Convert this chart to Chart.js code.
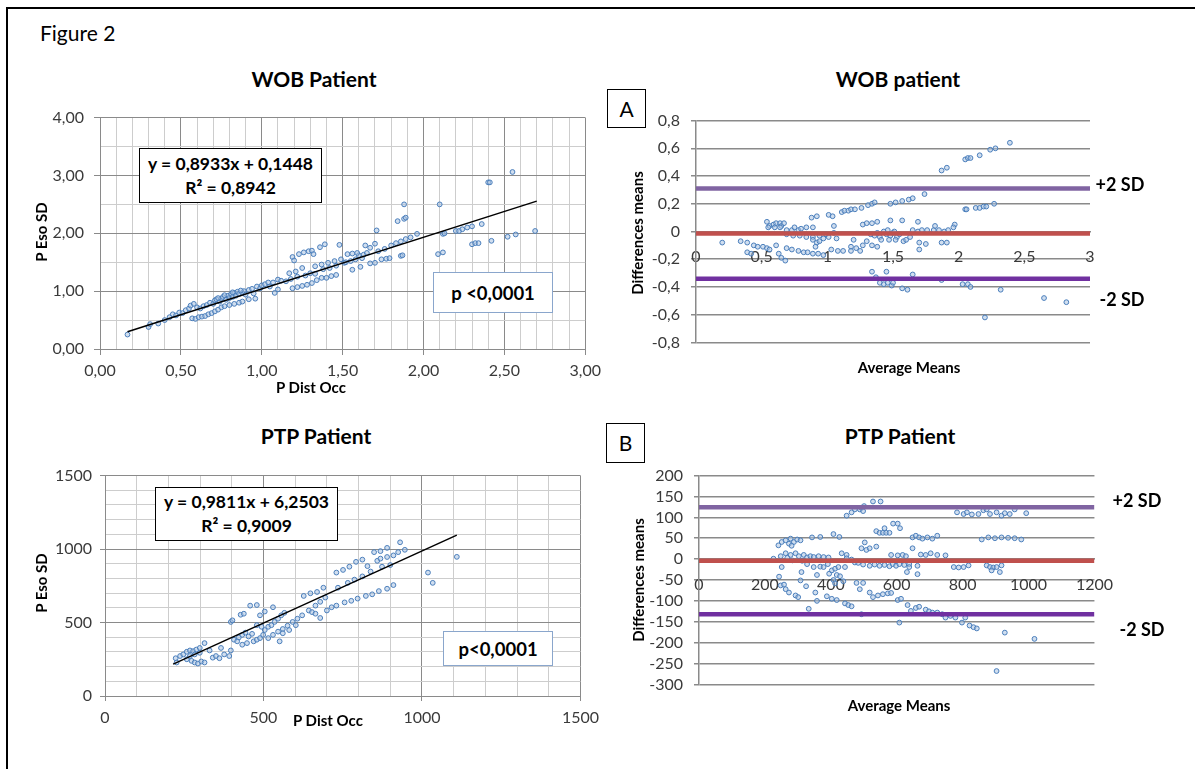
<!DOCTYPE html>
<html>
<head>
<meta charset="utf-8">
<script src="https://cdn.jsdelivr.net/npm/chart.js@4.4.1/dist/chart.umd.min.js"></script>
<style>
  body { margin: 0; background: #fff; }
  #page { position: relative; width: 1195px; height: 769px; overflow: hidden; font-family: Lato, sans-serif; color: #000; }
  .frame { position: absolute; left: 6px; top: 7px; width: 1200px; height: 780px; border-top: 2px solid #000; border-left: 2px solid #000; }
  .wrap { position: absolute; }
  .t { position: absolute; white-space: nowrap; transform: translate(-50%, -50%); }
  .title { font-weight: bold; font-size: 21px; }
  .ax { font-weight: bold; font-size: 15px; }
  .rot { transform: translate(-50%, -50%) rotate(-90deg); }
  .sd { font-weight: bold; font-size: 18px; }
  .box { position: absolute; box-sizing: border-box; border: 1.5px solid #000; background: #fff;
         display: flex; flex-direction: column; align-items: center; justify-content: center;
         font-weight: bold; font-size: 17.5px; line-height: 24px; }
  .pbox { border: 1px solid #8aa6cc; font-size: 18.5px; }
  .letter { font-weight: normal; font-size: 21px; }
</style>
</head>
<body>
<div id="page">
  <div class="frame"></div>

  <div class="wrap" style="left:40px;top:98px"><canvas id="wobScatter" width="567" height="283"></canvas></div>
  <div class="wrap" style="left:640px;top:100px"><canvas id="wobBland" width="472" height="263"></canvas></div>
  <div class="wrap" style="left:40px;top:458px"><canvas id="ptpScatter" width="566" height="270"></canvas></div>
  <div class="wrap" style="left:640px;top:455px"><canvas id="ptpBland" width="481" height="250"></canvas></div>

  <div class="t" style="left:40px;top:32px;transform:translate(0,-50%);font-size:21px">Figure 2</div>

  <div class="t title" style="left:314px;top:78px">WOB Patient</div>
  <div class="t title" style="left:898px;top:78px">WOB patient</div>
  <div class="t title" style="left:316px;top:435px">PTP Patient</div>
  <div class="t title" style="left:900px;top:435px">PTP Patient</div>

  <div class="t ax rot" style="left:41px;top:232px">P Eso SD</div>
  <div class="t ax" style="left:311px;top:387px">P Dist Occ</div>
  <div class="t ax rot" style="left:41px;top:583px">P Eso SD</div>
  <div class="t ax" style="left:328px;top:720px">P Dist Occ</div>

  <div class="t ax rot" style="left:637px;top:233px">Differences means</div>
  <div class="t ax" style="left:909px;top:367px">Average Means</div>
  <div class="t ax rot" style="left:638px;top:580px">Differences means</div>
  <div class="t ax" style="left:899px;top:705px">Average Means</div>

  <div class="t sd" style="left:1120px;top:184px">+2 SD</div>
  <div class="t sd" style="left:1122px;top:299px">-2 SD</div>
  <div class="t sd" style="left:1137px;top:500px">+2 SD</div>
  <div class="t sd" style="left:1142px;top:629px">-2 SD</div>

  <div class="box letter" style="left:607px;top:89px;width:39px;height:39px">A</div>
  <div class="box letter" style="left:606px;top:423px;width:39px;height:40px">B</div>

  <div class="box" style="left:139px;top:148px;width:183px;height:55px">
    <div>y = 0,8933x + 0,1448</div><div>R² = 0,8942</div>
  </div>
  <div class="box pbox" style="left:433px;top:272px;width:120px;height:41px">p &lt;0,0001</div>

  <div class="box" style="left:155px;top:487px;width:183px;height:54px">
    <div>y = 0,9811x + 6,2503</div><div>R² = 0,9009</div>
  </div>
  <div class="box pbox" style="left:443px;top:631px;width:110px;height:35px">p&lt;0,0001</div>
</div>

<script>
// WOB patient: P Dist Occ (x) vs P Eso SD (y)
const wobPoints = [
  [0.17,0.25],[0.30,0.38],[0.31,0.43],[0.36,0.44],[0.40,0.50],[0.43,0.55],[0.45,0.60],[0.47,0.58],
  [0.49,0.63],[0.51,0.62],[0.53,0.67],[0.55,0.70],[0.56,0.75],[0.58,0.78],[0.60,0.72],[0.62,0.70],
  [0.64,0.74],[0.66,0.76],[0.68,0.80],[0.70,0.78],[0.71,0.84],[0.72,0.86],[0.74,0.82],[0.75,0.87],
  [0.76,0.90],[0.78,0.85],[0.79,0.92],[0.80,0.88],[0.81,0.95],[0.82,0.90],[0.83,0.97],[0.84,0.92],
  [0.85,0.99],[0.86,0.95],[0.88,0.97],[0.89,1.00],[0.90,0.94],[0.92,1.02],[0.94,1.04],[0.95,0.96],
  [0.97,1.08],[0.99,1.05],[1.00,1.10],[1.02,1.12],[1.04,1.15],[1.05,1.08],[1.07,1.15],[1.10,1.20],
  [1.12,1.18],[0.73,0.88],[0.77,0.93],[0.82,0.98],[0.87,1.01],
  [0.57,0.53],[0.59,0.52],[0.61,0.55],[0.63,0.56],[0.65,0.57],[0.67,0.60],[0.69,0.62],[0.71,0.65],
  [0.73,0.68],[0.75,0.72],[0.77,0.74],[0.80,0.76],[0.83,0.78],[0.86,0.80],[0.88,0.82],[0.92,0.86],
  [0.96,0.87],[1.08,0.97],[1.10,1.03],
  [1.19,1.59],[1.20,1.53],[1.23,1.64],[1.26,1.67],[1.29,1.69],[1.31,1.70],[1.32,1.64],[1.36,1.76],
  [1.39,1.81],[1.48,1.80],
  [1.19,1.05],[1.22,1.07],[1.25,1.09],[1.28,1.11],[1.31,1.14],[1.34,1.19],[1.37,1.23],[1.40,1.23],
  [1.43,1.26],[1.46,1.28],
  [1.17,1.31],[1.21,1.34],[1.25,1.40],[1.30,1.31],[1.33,1.43],[1.37,1.46],[1.41,1.49],[1.45,1.52],
  [1.49,1.55],[1.51,1.49],[1.15,1.17],[1.18,1.21],[1.22,1.25],[1.27,1.27],[1.33,1.30],[1.38,1.38],
  [1.42,1.40],[1.46,1.44],[1.52,1.50],[1.55,1.52],[1.58,1.55],[1.62,1.57],[1.60,1.62],[1.63,1.63],
  [1.65,1.66],
  [1.53,1.64],[1.56,1.65],[1.59,1.66],[1.56,1.37],[1.61,1.42],[1.64,1.79],[1.67,1.75],[1.70,1.82],
  [1.71,2.05],[1.67,1.48],[1.70,1.49],[1.74,1.55],[1.77,1.56],[1.79,1.57],[1.72,1.69],[1.76,1.73],
  [1.80,1.79],[1.83,1.83],[1.86,1.86],[1.86,1.61],[1.87,1.62],[1.84,2.21],[1.88,2.25],[1.89,2.27],
  [1.88,2.50],[1.89,1.90],[1.92,1.93],[1.96,1.99],
  [2.10,2.50],[2.09,1.64],[2.12,1.67],[2.12,1.99],[2.13,2.00],[2.20,2.04],[2.22,2.04],[2.24,2.07],
  [2.27,2.10],[2.30,2.12],[2.30,1.81],[2.32,1.83],[2.34,1.83],[2.36,2.16],[2.40,2.88],[2.41,2.88],
  [2.42,1.87],[2.52,1.94],[2.55,3.06],[2.57,1.98],[2.69,2.04]
];
const wobTrend = [0.8933, 0.1448];   // slope, intercept
const wobTrendX = [0.17, 2.70];

// WOB patient Bland-Altman: average (x) vs difference (y)
const wobBland = [
  [0.20,-0.08],[0.34,-0.07],[0.39,-0.08],[0.44,-0.10],[0.47,-0.11],[0.51,-0.11],[0.39,-0.15],[0.42,-0.16],
  [0.54,-0.12],[0.56,-0.13],[0.61,-0.10],[0.63,-0.16],[0.65,-0.19],[0.68,-0.21],
  [0.54,0.07],[0.56,0.04],[0.59,0.05],[0.61,0.06],[0.64,0.06],[0.65,0.04],[0.67,0.06],[0.55,0.03],
  [0.60,0.03],[0.64,0.03],
  [0.69,0.01],[0.73,0.01],[0.75,0.03],[0.78,0.01],[0.80,0.02],[0.84,0.03],[0.89,0.03],[0.69,-0.02],
  [0.74,-0.03],[0.79,-0.03],[0.84,-0.04],[0.89,-0.04],[0.94,-0.03],[0.99,-0.02],[1.05,-0.01],
  [0.69,-0.12],[0.73,-0.13],[0.78,-0.14],[0.82,-0.15],[0.85,-0.15],[0.89,-0.16],[0.93,-0.16],[0.97,-0.17],
  [0.89,-0.06],[0.92,-0.08],[0.91,-0.11],[0.94,-0.07],[0.97,-0.05],[1.01,-0.04],
  [0.88,0.10],[0.92,0.11],[1.01,0.12],[1.04,0.11],[1.05,0.04],[1.07,-0.05],
  [1.03,-0.13],[1.08,-0.14],[1.12,-0.14],[1.18,-0.11],[1.18,-0.14],[1.22,-0.12],[1.25,-0.14],[1.27,-0.10],
  [1.30,-0.07],[1.20,-0.06],
  [1.11,0.14],[1.13,0.15],[1.16,0.15],[1.18,0.16],[1.21,0.16],[1.26,0.17],[1.31,0.19],[1.34,0.20],[1.36,0.21],
  [1.27,0.05],[1.30,0.06],[1.34,0.06],[1.38,0.07],[1.48,0.08],[1.57,0.08],
  [1.33,-0.02],[1.36,-0.03],[1.40,-0.04],[1.43,0.00],[1.45,-0.02],[1.48,-0.03],[1.50,-0.01],[1.53,-0.04],
  [1.55,-0.02],[1.41,-0.06],[1.47,-0.06],[1.52,-0.06],[1.38,-0.01],[1.46,0.01],[1.51,0.00],
  [1.34,-0.10],[1.38,-0.11],[1.58,-0.07],[1.60,-0.06],[1.63,-0.04],
  [1.48,0.20],[1.52,0.21],[1.57,0.22],[1.62,0.23],[1.65,0.24],[1.74,0.27],
  [1.65,0.01],[1.69,0.00],[1.72,0.01],[1.76,0.01],[1.81,0.01],[1.85,0.01],[1.89,0.00],[1.92,0.01],
  [1.69,0.07],[1.82,0.04],[1.97,0.05],[1.96,0.03],
  [1.70,-0.08],[1.75,-0.09],[1.70,-0.13],[1.87,-0.08],[1.91,-0.08],
  [1.87,0.44],[1.91,0.46],[2.05,0.52],[2.07,0.53],[2.09,0.53],[2.16,0.55],[2.24,0.59],[2.28,0.60],[2.39,0.64],
  [2.05,0.16],[2.06,0.16],[2.13,0.17],[2.16,0.17],[2.19,0.18],[2.21,0.18],[2.27,0.20],
  [1.34,-0.29],[1.45,-0.29],[1.37,-0.33],[1.40,-0.37],[1.43,-0.38],[1.46,-0.37],[1.49,-0.39],[1.50,-0.37],
  [1.57,-0.41],[1.61,-0.42],[1.65,-0.31],[1.87,-0.35],[2.03,-0.38],[2.07,-0.38],[2.09,-0.40],[2.32,-0.42],
  [2.20,-0.62],[2.65,-0.48],[2.82,-0.51]
];
const wobLimits = [0.31, -0.015, -0.34];   // +2 SD, mean, -2 SD

// PTP patient: P Dist Occ (x) vs P Eso SD (y)
const ptpPoints = [
  [223,257],[226,228],[237,272],[247,283],[258,301],[268,310],[278,305],[288,316],[299,327],[273,239],
  [283,228],[293,221],[304,235],[314,228],[258,250],[268,272],[283,283],[299,294],[314,360],[330,310],
  [340,261],[350,272],[361,257],[366,327],[376,283],[392,272],[397,310],
  [407,383],[422,398],[433,416],[443,431],[453,405],[464,423],[397,504],[402,515],[428,553],[438,560],
  [458,615],[479,619],[417,372],[433,349],[448,360],[469,372],[479,383],[489,394],[499,416],[504,449],
  [515,471],[525,482],[535,504],[546,526],[556,549],[566,566],[515,394],[530,416],[546,438],[561,456],
  [576,478],[592,504],[607,526],[622,549],[643,582],[664,615],[679,641],[695,670],[489,549],[504,575],
  [530,604],[479,482],[494,471],
  [561,427],[581,449],[602,482],[551,372],[653,571],[664,560],[679,531],[700,582],[715,604],[730,615],
  [756,637],[777,648],[797,663],[823,681],[843,692],[864,714],[890,730],[910,755],
  [627,681],[648,699],[669,708],[689,737],[730,840],[751,858],[771,880],[792,913],[812,928],[828,884],
  [849,979],[869,986],[890,1008],[931,1046],[859,920],[869,935],[890,946],[910,957],[925,979],[946,995],
  [735,737],[766,770],[787,792],[812,814],[838,847],[874,880],[900,891],
  [1019,840],[1034,770],[1110,947]
];
const ptpTrend = [0.9811, 6.2503];
const ptpTrendX = [215, 1110];

// PTP patient Bland-Altman
const ptpBland = [
  [226,1],[241,33],[248,7],[251,-19],[243,-42],[248,-63],[258,-61],[263,-72],[273,-80],[293,-87],[301,-91],
  [251,41],[263,45],[278,49],[288,41],[298,47],[308,45],[273,37],[281,32],
  [263,14],[278,10],[293,14],[303,7],[318,10],[328,4],[268,3],[283,-3],[313,-4],[338,7],[348,5],[363,7],
  [378,5],[393,4],
  [308,-51],[325,-65],[311,-31],[328,-12],[348,-19],[358,-38],[353,-80],[333,-119],[343,52],[368,53],
  [408,60],[426,53],
  [368,-18],[378,-19],[391,-12],[395,-35],[403,-27],[413,-23],[418,-38],[428,-41],[438,-53],[423,-19],
  [443,-19],[408,-50],[413,-58],[388,-89],[403,-95],[418,-98],[443,-106],[453,-110],[463,-113],[358,-100],
  [433,14],[448,10],[463,-1],[473,-8],[448,2],
  [463,112],[448,104],[473,119],[488,119],[493,123],[501,127],[498,115],[528,138],[551,138],
  [493,26],[508,22],[518,26],[503,40],[538,30],[538,67],[548,63],[558,63],[568,63],[578,63],[563,74],
  [589,85],[603,85],[610,74],
  [483,-9],[498,-13],[518,-16],[533,-13],[548,-16],[563,-14],[578,-17],[588,-12],[598,-16],[608,-12],
  [623,-14],[638,-12],
  [478,-57],[488,-72],[498,-57],[518,-80],[528,-91],[543,-87],[558,-84],[573,-82],[583,-81],[493,-132],
  [583,10],[603,9],[618,10],[628,7],[648,26],[638,-19],[631,-31],[663,-36],
  [603,-98],[613,-95],[608,-152],[633,-110],[643,-124],[658,-117],[668,-114],
  [648,52],[658,56],[668,52],[678,49],[693,52],[708,49],[723,56],[663,-16],[673,11],[688,10],[703,14],
  [723,10],[748,9],
  [688,-121],[698,-125],[708,-128],[723,-128],[738,-132],[748,-140],[763,-136],[778,-140],[798,-152],
  [808,-140],[821,-159],[833,-163],[843,-166],
  [773,-19],[788,-20],[803,-19],[818,-15],[873,-15],[883,-19],[893,-20],[903,-19],[918,-15],[888,-27],[913,-31],
  [783,112],[803,108],[813,112],[828,107],[848,108],[863,117],[873,119],[883,108],[903,112],[918,104],
  [928,110],[943,108],[958,119],[993,110],
  [858,47],[878,52],[898,50],[918,52],[938,51],[958,50],[978,47],
  [928,-176],[1018,-191],[903,-268]
];
const ptpLimits = [124, -4, -132];

const FONT = 'Lato';
const TICK_COLOR = '#3a3a3a';
const MAJOR = '#8a8a8a';
const MINOR = '#cdcdcd';

const toXY = pts => pts.map(p => ({ x: p[0], y: p[1] }));
const isMult = (v, m) => Math.abs(v / m - Math.round(v / m)) < 1e-6;
const comma = s => s.replace('.', ',');

function markers(pts) {
  return {
    type: 'scatter', data: toXY(pts), order: 2,
    pointRadius: 2.4, pointBorderWidth: 1,
    borderColor: '#4a7ebb', backgroundColor: 'rgba(170,195,226,0.55)'
  };
}
function trendLine(coef, xs) {
  return {
    type: 'line', order: 1, data: xs.map(x => ({ x: x, y: coef[0] * x + coef[1] })),
    borderColor: '#000', borderWidth: 1.5, pointRadius: 0
  };
}
function hLine(v, x0, x1, color) {
  return {
    type: 'line', order: 0, data: [{ x: x0, y: v }, { x: x1, y: v }],
    borderColor: color, borderWidth: 4.5, pointRadius: 0
  };
}

function gridAxis(min, max, minorStep, majorStep, fmt, tickLen, pad, fit) {
  const major = v => isMult(v, majorStep);
  return {
    type: 'linear', min: min, max: max,
    ticks: {
      stepSize: minorStep, autoSkip: false, maxRotation: 0, padding: pad,
      font: { family: FONT, size: 16 }, color: TICK_COLOR,
      callback: v => major(v) ? fmt(v) : ''
    },
    grid: {
      color: c => major(c.tick.value) ? MAJOR : MINOR,
      tickColor: c => major(c.tick.value) ? MAJOR : 'rgba(0,0,0,0)',
      tickLength: tickLen, lineWidth: 1
    },
    border: { color: MAJOR },
    afterFit: fit
  };
}

function baseOptions(padding, scales) {
  return {
    responsive: false, animation: false,
    layout: { padding: padding },
    plugins: { legend: { display: false }, tooltip: { enabled: false } },
    scales: scales
  };
}

// top-left scatter
new Chart(document.getElementById('wobScatter'), {
  type: 'scatter',
  data: { datasets: [markers(wobPoints), trendLine(wobTrend, wobTrendX)] },
  options: baseOptions({ top: 14, right: 18, left: 0, bottom: 0 }, {
    x: gridAxis(0, 3, 0.1, 0.5, v => comma(v.toFixed(2)), 6, 6, s => { s.height = 32; }),
    y: gridAxis(0, 4, 0.5, 1, v => comma(v.toFixed(2)), 6, 10, s => { s.width = 60; })
  })
});

// bottom-left scatter
new Chart(document.getElementById('ptpScatter'), {
  type: 'scatter',
  data: { datasets: [markers(ptpPoints), trendLine(ptpTrend, ptpTrendX)] },
  options: baseOptions({ top: 12, right: 18, left: 0, bottom: 0 }, {
    x: gridAxis(0, 1500, 100, 500, v => String(v), 5, 7, s => { s.height = 32; }),
    y: gridAxis(0, 1500, 100, 500, v => String(v), 5, 8, s => { s.width = 65; })
  })
});

function blandOptions(padding, xMax, xStep, yMin, yMax, yStep, fmt, yWidth) {
  return baseOptions(padding, {
    x: {
      type: 'linear', min: 0, max: xMax, position: { y: 0 },
      ticks: { stepSize: xStep, autoSkip: false, maxRotation: 0, padding: 8,
               font: { family: FONT, size: 16 }, color: TICK_COLOR, callback: v => fmt(v) },
      grid: { display: false },
      border: { display: true, color: MAJOR, width: 1.5 },
      afterFit: s => { s.height = 0; }
    },
    y: {
      type: 'linear', min: yMin, max: yMax,
      ticks: { stepSize: yStep, autoSkip: false, padding: 11,
               font: { family: FONT, size: 16 }, color: TICK_COLOR, callback: v => fmt(v) },
      grid: { color: MAJOR, lineWidth: 1.5, tickLength: 5, tickColor: MAJOR },
      border: { color: MAJOR, width: 1.5 },
      afterFit: s => { s.width = yWidth; }
    }
  });
}
const fmtDec = v => {
  const r = Math.round(v * 10) / 10;
  return r === 0 ? '0' : comma(String(r));
};

// top-right Bland-Altman
new Chart(document.getElementById('wobBland'), {
  type: 'scatter',
  data: { datasets: [
    markers(wobBland),
    hLine(wobLimits[0], 0, 3, '#8064a2'),
    hLine(wobLimits[1], 0, 3, '#c0504d'),
    hLine(wobLimits[2], 0, 3, '#7030a0')
  ] },
  options: blandOptions({ top: 17, right: 22, left: 0, bottom: 14 }, 3, 0.5, -0.8, 0.8, 0.2, fmtDec, 56)
});

// bottom-right Bland-Altman
new Chart(document.getElementById('ptpBland'), {
  type: 'scatter',
  data: { datasets: [
    markers(ptpBland),
    hLine(ptpLimits[0], 0, 1200, '#8064a2'),
    hLine(ptpLimits[1], 0, 1200, '#c0504d'),
    hLine(ptpLimits[2], 0, 1200, '#7030a0')
  ] },
  options: blandOptions({ top: 14, right: 22, left: 0, bottom: 14 }, 1200, 200, -300, 200, 50, v => String(Math.round(v)), 59)
});
</script>
</body>
</html>
